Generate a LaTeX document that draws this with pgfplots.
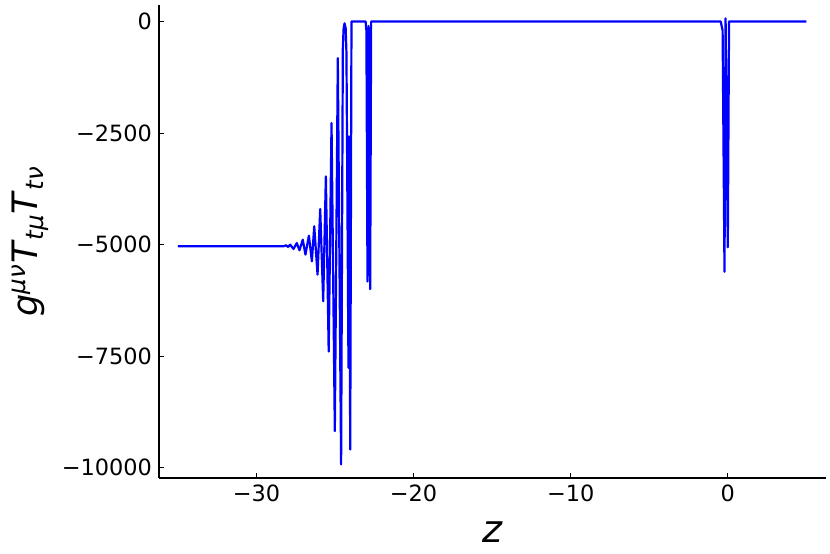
\documentclass[border=0pt]{standalone}
\usepackage{fontspec}
\setmainfont{DejaVu Sans}
\usepackage{pgfplots}
\pgfplotsset{compat=1.18}

\begin{document}
\begin{tikzpicture}
    \begin{axis}[
        name=ax,
        scale only axis,
        width=333.5pt,
        height=236.7pt,
        xmin=-36.2, xmax=6.25,
        ymin=-10235, ymax=380,
        axis lines*=left,
        axis line style={line width=1pt, -},
        tick align=inside,
        major tick length=2.5pt,
        tick style={black, line width=0.5pt},
        xtick={-30,-20,-10,0},
        xticklabels={−30,−20,−10,0},
        ytick={-10000,-7500,-5000,-2500,0},
        yticklabels={−10000,−7500,−5000,−2500,0},
        tick label style={font=\fontsize{11.2}{13}\selectfont},
        xlabel={\textit{z}},
        ylabel={\textit{g}\textsuperscript{\textit{μν}}\textit{T}\textsubscript{\textit{tμ}}\textit{T}\textsubscript{\textit{tν}}},
        xlabel style={font=\fontsize{19}{22}\selectfont,
            at={(axis description cs:0.5,-0.114)}, anchor=center},
        ylabel style={font=\fontsize{17.5}{20}\selectfont,
            at={(axis description cs:-0.1934,0.5)}, anchor=center},
    ]
    \addplot[
        color={rgb,255:red,0;green,0;blue,255},
        line width=1.1pt,
        line join=round,
    ] coordinates {
        (-35,-5040) (-28.3,-5040) (-28.11,-5018) (-27.98,-5055)
        (-27.85,-5003) (-27.64,-5100) (-27.43,-4966) (-27.26,-5130)
        (-27.05,-4891) (-26.88,-5227) (-26.66,-4801) (-26.47,-5376)
        (-26.32,-4592) (-26.11,-5675) (-25.94,-4204) (-25.75,-6272)
        (-25.58,-3472) (-25.40,-7400) (-25.22,-2277) (-25.01,-9184)
        (-24.82,-821) (-24.61,-9931) (-24.50,-600) (-24.45,-150)
        (-24.39,-40) (-24.32,-150) (-24.27,-700) (-24.14,-7766)
        (-24.10,-2576) (-24.03,-9595) (-23.95,0) (-23.05,0)
        (-23.00,-200) (-22.93,-5830) (-22.86,-100) (-22.76,-6000)
        (-22.70,0) (-0.45,0) (-0.33,-200) (-0.21,-5609)
        (-0.14,70) (0.00,-5063) (0.08,0) (5,0)
    };
    \end{axis}
    \path (ax.south west) ++(-79.5pt,-38pt) coordinate (bl);
    \path (ax.north east) ++(2pt,2.3pt) coordinate (tr);
    \pgfresetboundingbox
    \path (bl) rectangle (tr);
\end{tikzpicture}
\end{document}
